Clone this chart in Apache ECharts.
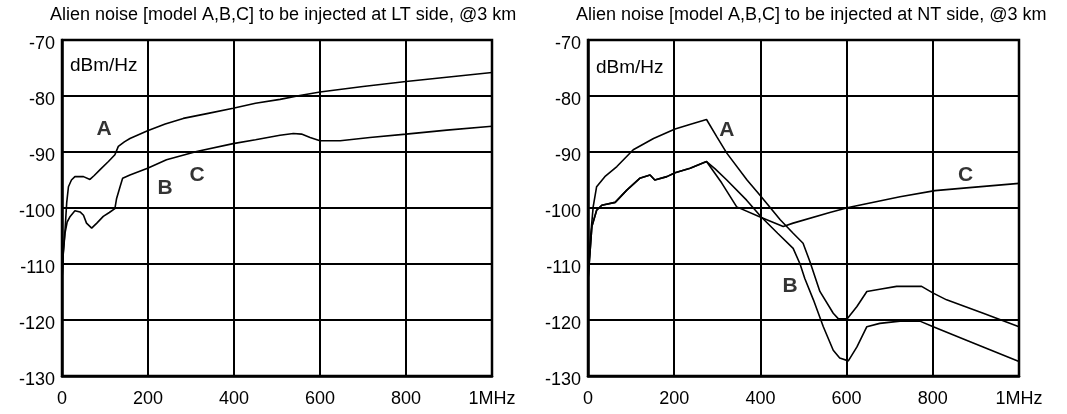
<!DOCTYPE html>
<html>
<head>
<meta charset="utf-8">
<script src="https://cdn.jsdelivr.net/npm/echarts@6/dist/echarts.min.js"></script>
<style>
html,body{margin:0;padding:0;background:#fff;}
#chart{width:1067px;height:414px;}
</style>
</head>
<body>
<div id="chart"></div>
<script>
// ---- data (frequency kHz, PSD dBm/Hz) ----
const titles = [
  'Alien noise [model A,B,C] to be injected at LT side, @3 km',
  'Alien noise [model A,B,C] to be injected at NT side, @3 km'
];
const unitLabel = 'dBm/Hz';
const xTicks = [0, 200, 400, 600, 800, 1000];
const xTickLabels = ['0', '200', '400', '600', '800', '1MHz'];
const yTicks = [-130, -120, -110, -100, -90, -80, -70];

// LT side
const ltA = [[0,-112.9],[3,-108],[7,-104],[11,-99],[15,-96.2],[22,-95],[30,-94.4],[50,-94.4],[65,-94.9],[75,-94.2],[88,-93.2],[108,-91.7],[123,-90.5],[131,-89],[145,-88.2],[158,-87.6],[199,-86.2],[240,-85],[282,-84],[340,-83.1],[398,-82.2],[450,-81.3],[507,-80.6],[553,-79.9],[600,-79.3],[700,-78.3],[800,-77.4],[900,-76.6],[1000,-75.8]];
const ltBC = [[0,-112.9],[3,-108],[7,-104.5],[12,-102.5],[19,-101.5],[30,-100.5],[42,-100.7],[50,-101.3],[57,-102.7],[69,-103.6],[81,-102.7],[96,-101.5],[110,-100.8],[123,-100.1],[127,-98.3],[135,-96.2],[141,-94.7],[158,-94.1],[199,-92.9],[243,-91.4],[313,-89.9],[398,-88.5],[450,-87.8],[507,-87],[538,-86.7],[557,-86.8],[577,-87.4],[600,-88],[647,-88],[716,-87.4],[800,-86.8],[895,-86.1],[1000,-85.4]];
const ltLabels = [['A',98,-86],['B',240,-96.4],['C',314,-94.1]];

// NT side
const ntA = [[0,-112.9],[5,-106],[12,-99.8],[20,-96.2],[39,-94.4],[67,-92.6],[105,-89.6],[152,-87.6],[202,-85.9],[240,-85],[275,-84.2],[299,-87.3],[322,-90.2],[369,-95],[402,-98],[446,-102.1],[476,-104.5],[499,-106.3],[515,-109.6],[538,-114.9],[569,-118.8],[581,-119.8],[601,-119.8],[624,-117.6],[647,-114.9],[677,-114.5],[716,-114],[774,-114],[801,-115.2],[832,-116.4],[917,-118.8],[1000,-121.2]];
const ntB = [[0,-112.9],[9,-103.3],[20,-100.4],[32,-99.5],[63,-99],[90,-96.8],[120,-94.7],[144,-94.1],[155,-95],[183,-94.4],[202,-93.7],[237,-92.9],[275,-91.7],[295,-93],[322,-95],[368,-98.6],[402,-101.6],[440,-104.5],[476,-107.2],[492,-110],[503,-112.6],[523,-116.4],[546,-121.2],[569,-125.4],[584,-126.8],[604,-127.3],[624,-124.8],[647,-121.2],[677,-120.6],[724,-120.2],[770,-120.2],[801,-121.2],[878,-123.6],[1000,-127.4]];
const ntC = [[0,-112.9],[9,-103.3],[20,-100.4],[32,-99.5],[63,-99],[90,-96.8],[120,-94.7],[144,-94.1],[155,-95],[183,-94.4],[202,-93.7],[237,-92.9],[275,-91.7],[310,-95.5],[345,-99.8],[402,-101.7],[453,-103.3],[476,-102.7],[561,-100.8],[604,-99.9],[724,-98],[805,-96.9],[878,-96.4],[1000,-95.6]];
const ntLabels = [['A',322,-86.1],['B',469,-114],['C',876,-94.1]];

// ---- chart ----
const FONT = '"Liberation Sans", Arial, sans-serif';
const grids = [
  {left: 62, top: 40, width: 430, height: 336},
  {left: 588, top: 40, width: 431, height: 336}
];
function xAxis(i){
  return {
    type: 'value', gridIndex: i, min: xTicks[0], max: xTicks[xTicks.length-1], interval: 200,
    axisLine: {show: true, onZero: false, lineStyle: {color: '#000', width: 2.5}},
    axisTick: {show: false},
    splitLine: {show: true, lineStyle: {color: '#000', width: 2}},
    axisLabel: {
      color: '#000', fontSize: 18, fontFamily: FONT, margin: 14,
      formatter: v => { const k = xTicks.indexOf(v); return k >= 0 ? xTickLabels[k] : ''; }
    }
  };
}
function yAxis(i){
  return {
    type: 'value', gridIndex: i, min: yTicks[0], max: yTicks[yTicks.length-1], interval: 10,
    axisLine: {show: true, lineStyle: {color: '#000', width: 2.5}},
    axisTick: {show: false},
    splitLine: {show: true, lineStyle: {color: '#000', width: 2}},
    axisLabel: {
      color: '#000', fontSize: 18, fontFamily: FONT, margin: 7,
      formatter: v => '{a|' + v + '}',
      rich: {a: {fontSize: 18, fontFamily: FONT, color: '#000', padding: [9, 0, 0, 0]}}
    }
  };
}
function line(data, i){
  return {
    type: 'line', xAxisIndex: i, yAxisIndex: i, data: data, showSymbol: false, symbol: 'none',
    lineStyle: {color: '#000', width: 1.6}, silent: true, animation: false, z: 5
  };
}
function labels(arr, i){
  return {
    type: 'scatter', xAxisIndex: i, yAxisIndex: i, symbolSize: 0, silent: true, animation: false, z: 6,
    data: arr.map(d => ({value: [d[1], d[2]], name: d[0]})),
    label: {show: true, position: 'inside', formatter: p => p.name, color: '#000',
      fontSize: 21, fontWeight: 'bold', fontFamily: FONT}
  };
}

const chart = echarts.init(document.getElementById('chart'), null, {renderer: 'canvas'});
chart.setOption({
  animation: false,
  backgroundColor: '#fff',
  title: [
    {text: titles[0], left: 45, top: 1, textStyle: {fontSize: 18, fontWeight: 'normal', color: '#000', fontFamily: FONT}},
    {text: titles[1], left: 571, top: 1, textStyle: {fontSize: 18, fontWeight: 'normal', color: '#000', fontFamily: FONT}}
  ],
  grid: grids.map(g => Object.assign({show: true, borderColor: '#000', borderWidth: 2.5, backgroundColor: 'transparent'}, g)),
  xAxis: [xAxis(0), xAxis(1)],
  yAxis: [yAxis(0), yAxis(1)],
  graphic: [
    {type: 'text', left: 70, top: 56, style: {text: unitLabel, fontSize: 19, fontFamily: FONT, fill: '#000'}},
    {type: 'text', left: 596, top: 58, style: {text: unitLabel, fontSize: 19, fontFamily: FONT, fill: '#000'}}
  ],
  series: [
    line(ltA, 0), line(ltBC, 0), labels(ltLabels, 0),
    line(ntA, 1), line(ntB, 1), line(ntC, 1), labels(ntLabels, 1)
  ]
});
</script>
</body>
</html>
